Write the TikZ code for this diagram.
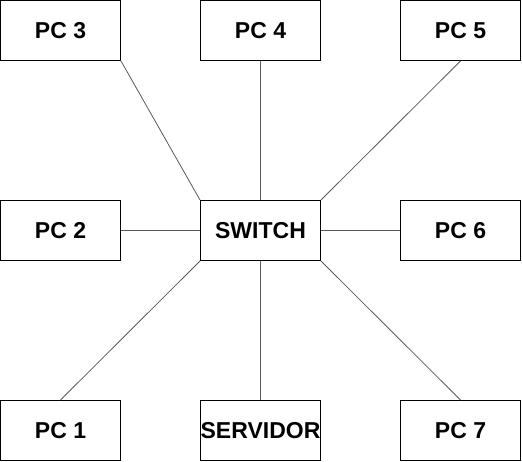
\documentclass[tikz,border=0pt]{standalone}
\usepackage{fontspec}
\setmainfont{Liberation Sans}
\usepackage{tikz}
\usetikzlibrary{positioning}

\begin{document}
\begin{tikzpicture}[x=1pt, y=-1pt,
	line width = 1pt,
	device/.style={fill=white,draw,rectangle,minimum width=120pt,minimum height=60pt,inner sep=0pt,font=\bfseries\fontsize{23}{27}\selectfont},
	link/.style={draw=black!65, line width=0.8pt}]

	\useasboundingbox (0,0) rectangle (522,462);

	\node [device] (sw) at (260.5,230.5) {SWITCH};
	\node [device] (pc3) at (60.5,30.5) {PC 3};
	\node [device] (pc4) at (260.5,30.5) {PC 4};
	\node [device] (pc5) at (460.5,30.5) {PC 5};
	\node [device] (pc2) at (60.5,230.5) {PC 2};
	\node [device] (pc6) at (460.5,230.5) {PC 6};
	\node [device] (pc1) at (60.5,430.5) {PC 1};
	\node [device] (srv) at (260.5,430.5) {SERVIDOR};
	\node [device] (pc7) at (460.5,430.5) {PC 7};

	\draw [link] (pc3.south east) -- (sw.north west);
	\draw [link] (pc4.south) -- (sw.north);
	\draw [link] (pc5.south) -- (sw.north east);
	\draw [link] (pc2.east) -- (sw.west);
	\draw [link] (pc6.west) -- (sw.east);
	\draw [link] (pc1.north) -- (sw.south west);
	\draw [link] (srv.north) -- (sw.south);
	\draw [link] (pc7.north) -- (sw.south east);

\end{tikzpicture}
\end{document}
